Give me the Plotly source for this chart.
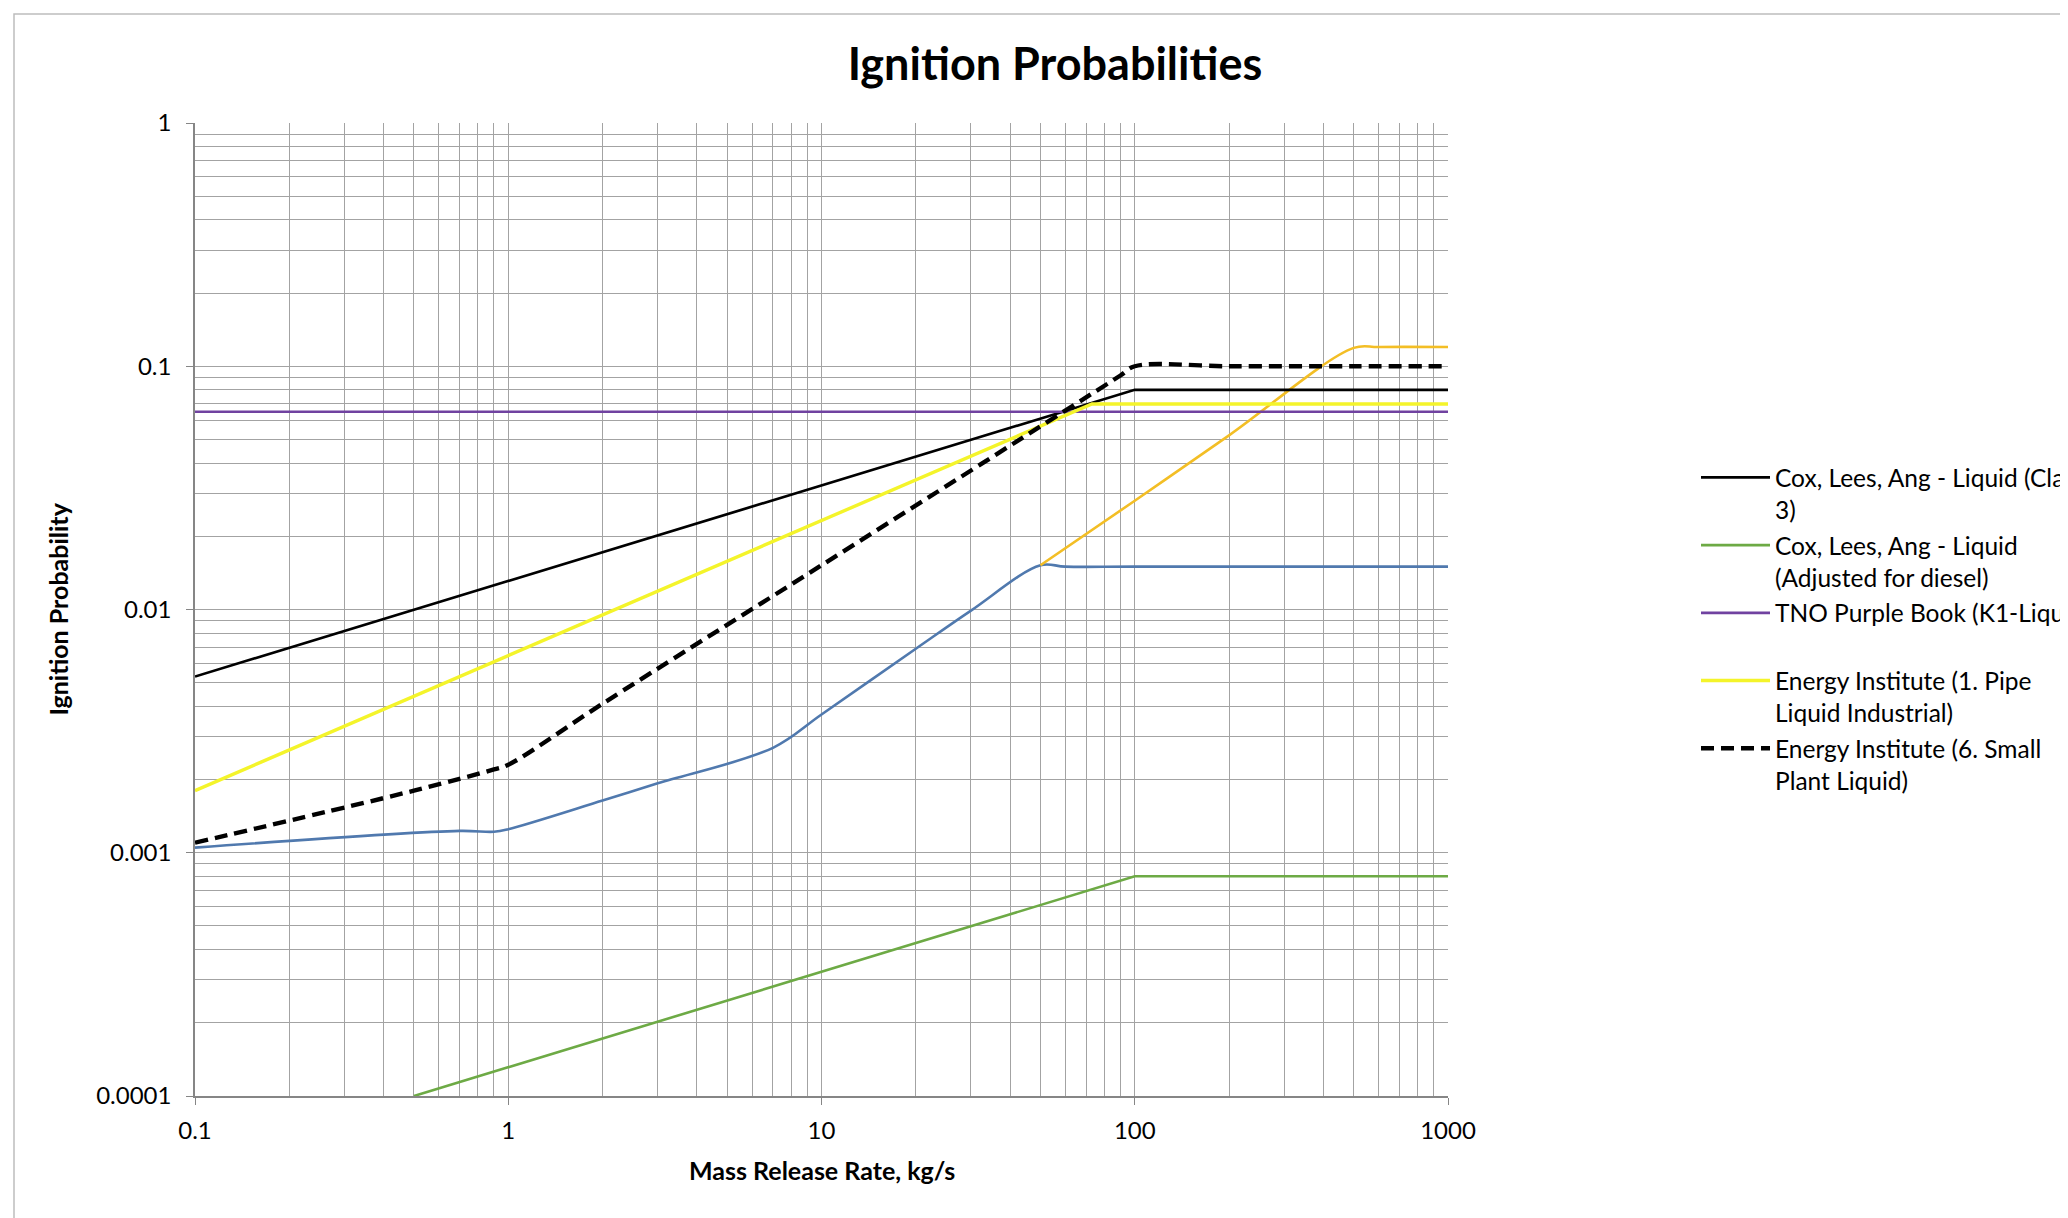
import plotly.graph_objects as go

# ---- data ----
x_tick_vals = [0.1, 1, 10, 100, 1000]
x_tick_text = ["0.1", "1", "10", "100", "1000"]
y_tick_vals = [0.0001, 0.001, 0.01, 0.1, 1]
y_tick_text = ["0.0001", "0.001", "0.01", "0.1", "1"]

cox_x = [0.1, 100, 1000]
cox_y = [0.0053, 0.08, 0.08]

diesel_x = [0.5, 100, 1000]
diesel_y = [0.0001, 0.0008, 0.0008]

tno_x = [0.1, 1000]
tno_y = [0.065, 0.065]

ei1_x = [0.1, 73, 1000]
ei1_y = [0.0018, 0.07, 0.07]

ei6_x = [0.1, 0.5, 0.9, 1, 2, 10, 50, 90, 100, 200, 500, 1000]
ei6_y = [0.0011, 0.0018, 0.0022, 0.0023, 0.0041, 0.0152, 0.0566, 0.0916, 0.1, 0.1, 0.1, 0.1]

blue_x = [0.1, 0.7, 0.9, 1, 2, 3, 7, 10, 20, 30, 50, 60, 100, 1000]
blue_y = [0.00105, 0.00123, 0.00122, 0.00125, 0.00164, 0.00193, 0.0027, 0.0037,
          0.0069, 0.0099, 0.0152, 0.015, 0.015, 0.015]

gold_x = [50, 100, 200, 500, 600, 1000]
gold_y = [0.0152, 0.028, 0.052, 0.119, 0.12, 0.12]

names = [
    "Cox, Lees, Ang - Liquid (Class<br>3)",
    "Cox, Lees, Ang - Liquid<br>(Adjusted for diesel)",
    "TNO Purple Book (K1-Liquid)<br>\u00a0",
    "Energy Institute (1. Pipe<br>Liquid Industrial)",
    "Energy Institute (6. Small<br>Plant Liquid)",
]

FONT = "Lato, Carlito, Calibri, sans-serif"
OFF = 8  # page body margin
W, H = 2068 - OFF, 1218 - OFF
L, T = 195 - OFF, 123 - OFF
PLOT_R, PLOT_B = 1448 - OFF, 1096 - OFF
R, B = W - PLOT_R, H - PLOT_B
PW, PH = W - L - R, H - T - B
GRID = "#A3A3A3"

fig = go.Figure()

fig.add_trace(go.Scatter(x=blue_x, y=blue_y, mode="lines", showlegend=False,
                         line=dict(color="#5079AE", width=2.6, shape="spline", smoothing=1)))
fig.add_trace(go.Scatter(x=gold_x, y=gold_y, mode="lines", showlegend=False,
                         line=dict(color="#F3BE25", width=2.6, shape="spline", smoothing=1)))
fig.add_trace(go.Scatter(x=cox_x, y=cox_y, mode="lines", name=names[0], legendgroup="g1",
                         line=dict(color="#000000", width=2.7)))
fig.add_trace(go.Scatter(x=diesel_x, y=diesel_y, mode="lines", name=names[1], legendgroup="g2",
                         line=dict(color="#6DAA45", width=2.6)))
fig.add_trace(go.Scatter(x=tno_x, y=tno_y, mode="lines", name=names[2], legendgroup="g3",
                         line=dict(color="#7042A0", width=2.6)))
fig.add_trace(go.Scatter(x=ei1_x, y=ei1_y, mode="lines", name=names[3], legendgroup="g4",
                         line=dict(color="#F4F42A", width=3.4)))
fig.add_trace(go.Scatter(x=ei6_x, y=ei6_y, mode="lines", name=names[4], legendgroup="g5",
                         line=dict(color="#000000", width=4.4, dash="13px,7px",
                                   shape="spline", smoothing=1)))

axis_common = dict(
    type="log",
    showgrid=True, gridcolor=GRID, gridwidth=1,
    showline=True, linecolor="#868686", linewidth=1.5,
    ticks="outside", tickcolor="#868686", ticklen=7,
    tickfont=dict(family=FONT, size=24, color="#000000"),
    zeroline=False,
    minor=dict(dtick="D1", showgrid=True, gridcolor=GRID, gridwidth=1, ticks=""),
)

fig.update_layout(
    width=W, height=H,
    margin=dict(l=L, r=R, t=T, b=B, autoexpand=False),
    paper_bgcolor="white", plot_bgcolor="white",
    title=dict(text="<b>Ignition Probabilities</b>", xref="container", yref="container",
               x=(1055 - OFF) / W, y=1 - (64 - OFF) / H, xanchor="center", yanchor="middle",
               font=dict(family=FONT, size=45, color="#000000")),
    xaxis=dict(axis_common, range=[-1, 3], tickmode="array",
               tickvals=x_tick_vals, ticktext=x_tick_text, ticklabelstandoff=5),
    yaxis=dict(axis_common, range=[-4, 0], tickmode="array",
               tickvals=y_tick_vals, ticktext=y_tick_text, ticklabelstandoff=10),
    legend=dict(x=(1696 - OFF - L) / PW, y=(PLOT_B - (455 - OFF)) / PH,
                xanchor="left", yanchor="top",
                font=dict(family=FONT, size=24.5, color="#000000"),
                valign="top", itemwidth=69, tracegroupgap=1,
                bgcolor="rgba(0,0,0,0)", borderwidth=0, traceorder="grouped"),
    annotations=[
        dict(text="<b>Mass Release Rate, kg/s</b>", xref="paper", yref="paper",
             x=0.5, y=0, yshift=-74, xanchor="center", yanchor="middle",
             showarrow=False, font=dict(family=FONT, size=25, color="#000000")),
        dict(text="<b>Ignition Probability</b>", xref="paper", yref="paper",
             x=0, y=0.5, xshift=(57 - OFF) - L, xanchor="center", yanchor="middle",
             textangle=-90, showarrow=False,
             font=dict(family=FONT, size=25, color="#000000")),
    ],
    shapes=[
        dict(type="rect", xref="paper", yref="paper",
             x0=(14 - OFF - L) / PW, x1=(2100 - L) / PW,
             y0=(PLOT_B - 1240) / PH, y1=(PLOT_B - (14 - OFF)) / PH,
             line=dict(color="#BDBDBD", width=1.5), fillcolor="rgba(0,0,0,0)",
             layer="below"),
    ],
)

fig.write_html("out.html")
